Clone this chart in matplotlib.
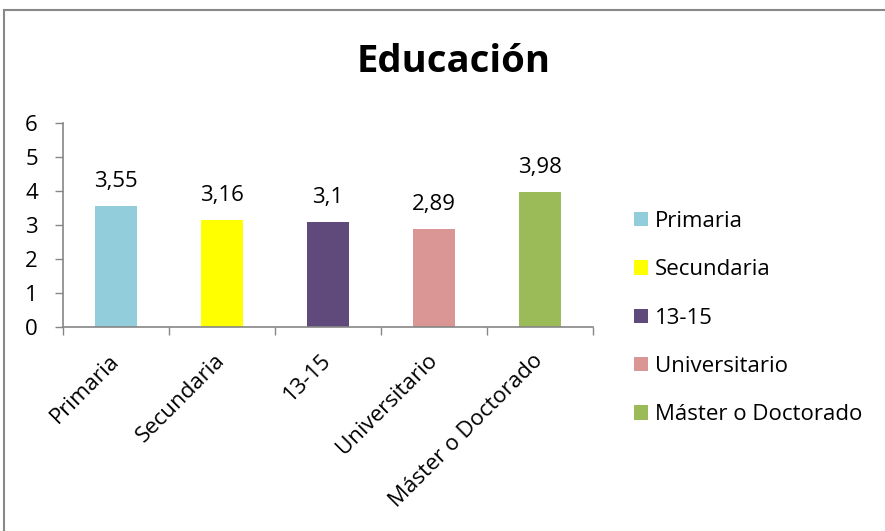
import matplotlib.pyplot as plt
from matplotlib.lines import Line2D

# chart data
categories = ['Primaria', 'Secundaria', '13-15', 'Universitario', 'Máster o Doctorado']
values = [3.55, 3.16, 3.1, 2.89, 3.98]
value_labels = ['3,55', '3,16', '3,1', '2,89', '3,98']
colors = ['#92CDDC', '#FFFF00', '#604A7B', '#D99694', '#9BBB59']
yticks = [0, 1, 2, 3, 4, 5, 6]

plt.rcParams['font.family'] = ['Open Sans', 'DejaVu Sans']

fig = plt.figure(figsize=(8.85, 5.31), dpi=100)
W, H = 885, 531
ax = fig.add_axes([63 / W, 1 - 327 / H, 530 / W, 204 / H])

pos = list(range(len(categories)))
bars = ax.bar(pos, values, width=0.4, color=colors, label=categories)
for x, v, s in zip(pos, values, value_labels):
    ax.annotate(s, (x, v), xytext=(0, 10), textcoords='offset points',
                ha='center', va='bottom', fontsize=16)

ax.set_xlim(-0.5, len(categories) - 0.5)
ax.set_ylim(0, 6)
ax.set_yticks(yticks)
ax.set_yticklabels([str(t) for t in yticks], fontsize=16)

# category labels at centres, tick marks at the boundaries
ax.set_xticks(pos)
ax.set_xticklabels(categories, rotation=45, ha='right', va='center',
                   rotation_mode='anchor', fontsize=16)
ax.tick_params(axis='x', length=0, pad=22)
ax.set_xticks([p - 0.5 for p in pos] + [len(pos) - 0.5], minor=True)
ax.tick_params(axis='x', which='minor', length=6, color='#868686', width=1)
ax.tick_params(axis='y', length=6, color='#868686', width=1, pad=12)

for side in ['top', 'right']:
    ax.spines[side].set_visible(False)
for side in ['left', 'bottom']:
    ax.spines[side].set_color('#868686')
    ax.spines[side].set_linewidth(1.2)

fig.text(454 / W, 1 - 62 / H, 'Educación', ha='center', va='center',
         fontsize=27.5, fontweight='bold')

fig.legend(handles=bars, labels=categories, loc='upper left',
           bbox_to_anchor=(634 / W, 1 - 211 / H), frameon=False, fontsize=16,
           borderpad=0, borderaxespad=0,
           handlelength=0.63, handleheight=0.63, handletextpad=0.32, labelspacing=1.23)

# outer chart border (left and top edges visible)
fig.add_artist(Line2D([4 / W, 4 / W], [0, 1 - 10 / H], transform=fig.transFigure,
                      color='#888888', lw=1.5))
fig.add_artist(Line2D([4 / W, 1], [1 - 10 / H, 1 - 10 / H], transform=fig.transFigure,
                      color='#888888', lw=1.5))

fig.savefig('out.png', dpi=100)
